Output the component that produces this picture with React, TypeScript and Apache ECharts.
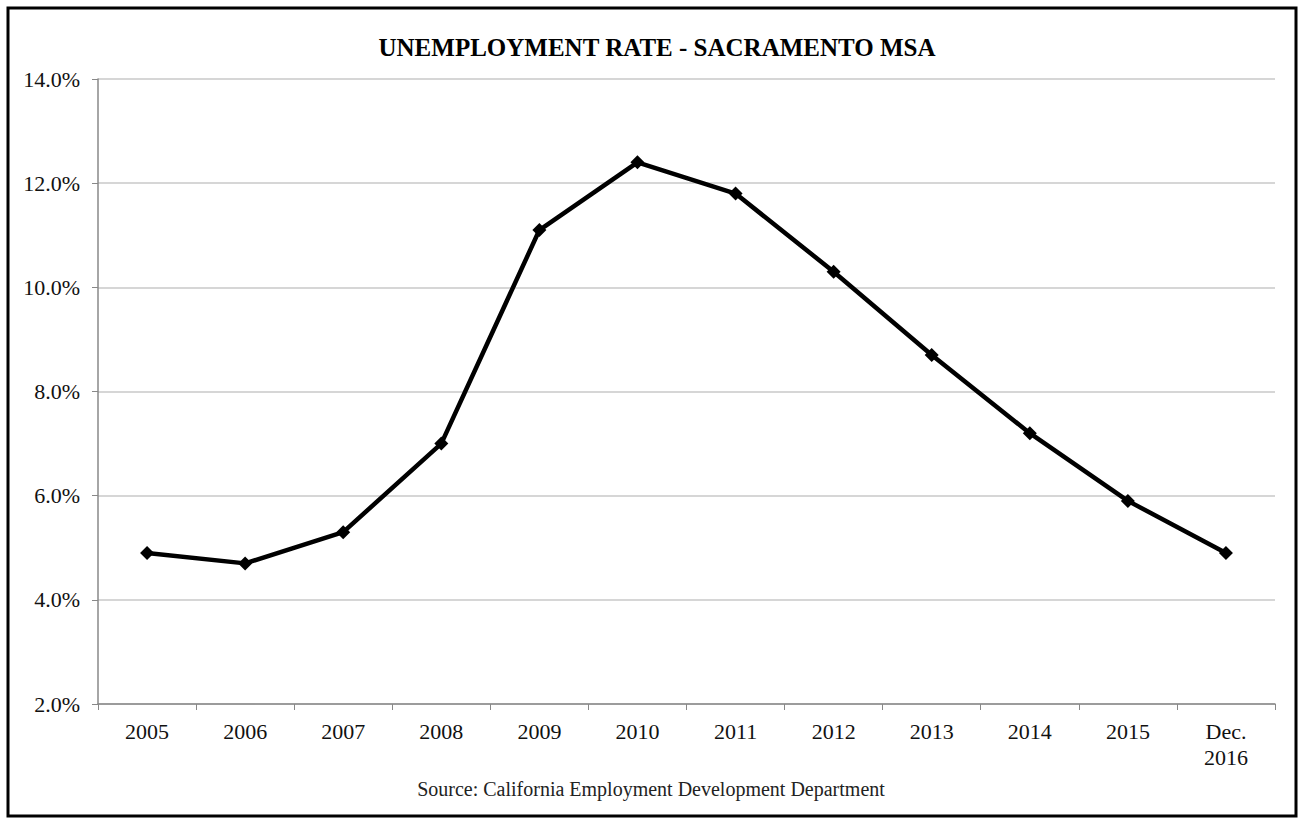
import React, { useEffect, useRef } from "react";
import * as echarts from "echarts";

const categories = ["2005", "2006", "2007", "2008", "2009", "2010", "2011", "2012", "2013", "2014", "2015", "Dec.\n2016"];
const rates = [4.9, 4.7, 5.3, 7.0, 11.1, 12.4, 11.8, 10.3, 8.7, 7.2, 5.9, 4.9];
const titleText = "UNEMPLOYMENT RATE - SACRAMENTO MSA";
const sourceText = "Source: California Employment Development Department";

const FONT = "'Liberation Serif', 'DejaVu Serif', serif";

export default function App() {
  const ref = useRef<HTMLDivElement>(null);
  useEffect(() => {
    if (!ref.current) return;
    const chart = echarts.init(ref.current, null, { renderer: "svg" });
    chart.setOption({
      animation: false,
      backgroundColor: "#ffffff",
      title: {
        text: titleText,
        left: 652,
        top: 30,
        textAlign: "center",
        textStyle: { fontFamily: FONT, fontWeight: "bold", fontSize: 25, color: "#000" },
      },
      graphic: [
        {
          type: "rect",
          shape: { x: 8, y: 8, width: 1288, height: 808 },
          style: { fill: "none", stroke: "#000", lineWidth: 3 },
          silent: true,
        },
        {
          type: "text",
          x: 651,
          y: 789,
          style: {
            text: sourceText,
            font: `20px ${FONT}`,
            fill: "#222",
            textAlign: "center",
            textVerticalAlign: "middle",
          },
        },
      ],
      grid: { left: 98, right: 24, top: 79, bottom: 115, containLabel: false },
      xAxis: {
        type: "category",
        data: categories,
        boundaryGap: true,
        axisLine: { lineStyle: { color: "#888", width: 1.5 } },
        axisTick: { show: true, length: 6, lineStyle: { color: "#888" } },
        axisLabel: {
          fontFamily: FONT,
          fontSize: 22,
          color: "#111",
          margin: 14,
          lineHeight: 26,
          interval: 0,
        },
      },
      yAxis: {
        type: "value",
        min: 2,
        max: 14,
        interval: 2,
        axisLine: { show: true, lineStyle: { color: "#888", width: 1.5 } },
        axisTick: { show: true, length: 6, lineStyle: { color: "#888" } },
        splitLine: { lineStyle: { color: "#c8c8c8", width: 1.5 } },
        axisLabel: {
          fontFamily: FONT,
          fontSize: 22,
          color: "#111",
          margin: 18,
          formatter: (v: number) => v.toFixed(1) + "%",
        },
      },
      series: [
        {
          type: "line",
          data: rates,
          symbol: "diamond",
          symbolSize: 14,
          lineStyle: { color: "#000", width: 4.5 },
          itemStyle: { color: "#000" },
        },
      ],
    });
    return () => chart.dispose();
  }, []);
  return (
    <div
      ref={ref}
      style={{ position: "fixed", left: 0, top: 0, width: 1299, height: 819, background: "#fff" }}
    />
  );
}
